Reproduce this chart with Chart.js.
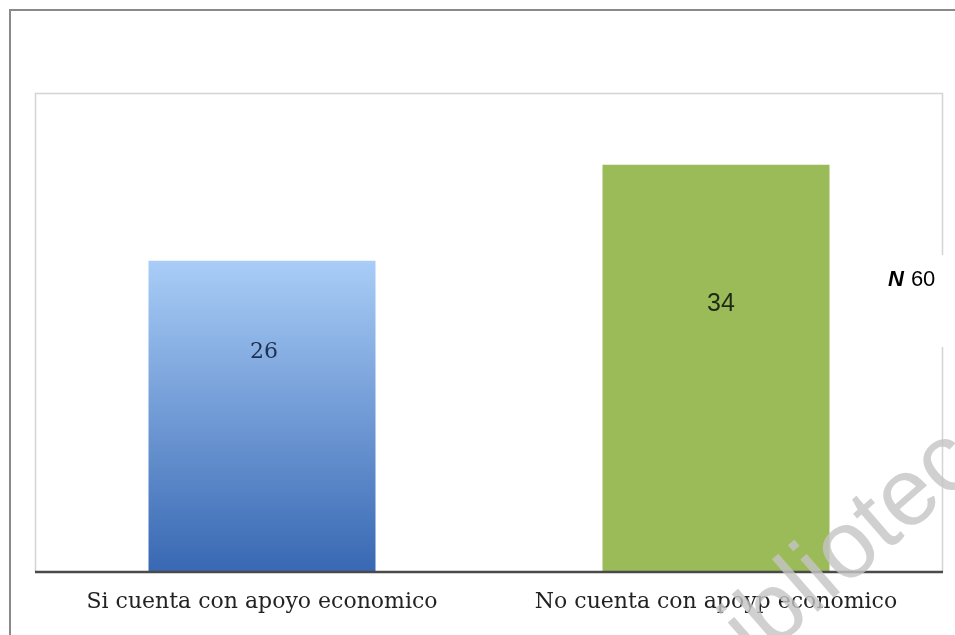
<!DOCTYPE html>
<html>
<head>
<meta charset="utf-8">
<script src="https://cdn.jsdelivr.net/npm/chart.js@4"></script>
<style>
  html, body { margin: 0; padding: 0; background: #fff; }
  #wrap { width: 955px; height: 635px; position: relative; }
</style>
</head>
<body>
<div id="wrap"><canvas id="chart"></canvas></div>
<script>
// data
const categories = ['Si cuenta con apoyo economico', 'No cuenta con apoyp economico'];
const values = [26, 34];
const totalLabel = '60';
const yMax = 40;

// frame, N label, value labels and watermark
const decorations = {
    id: 'decorations',
    beforeDraw(chart) {
        const ctx = chart.ctx;
        const a = chart.chartArea;
        ctx.save();
        // outer frame (left + top)
        ctx.strokeStyle = '#8a8a8a';
        ctx.lineWidth = 2;
        ctx.beginPath();
        ctx.moveTo(10, 635);
        ctx.lineTo(10, 10);
        ctx.lineTo(955, 10);
        ctx.stroke();
        // inner plot box, light gray, with a gap on the right for the N label
        ctx.strokeStyle = '#d4d4d4';
        ctx.lineWidth = 1.5;
        ctx.beginPath();
        ctx.moveTo(a.left + 0.5, a.bottom);
        ctx.lineTo(a.left + 0.5, a.top + 0.5);
        ctx.lineTo(a.right - 0.5, a.top + 0.5);
        ctx.lineTo(a.right - 0.5, 255);
        ctx.moveTo(a.right - 0.5, 347);
        ctx.lineTo(a.right - 0.5, a.bottom);
        ctx.stroke();
        ctx.restore();
    },
    afterDatasetsDraw(chart) {
        const ctx = chart.ctx;
        const a = chart.chartArea;
        const meta = chart.getDatasetMeta(0);
        ctx.save();
        // bottom axis line
        ctx.strokeStyle = '#4a4a4a';
        ctx.lineWidth = 2.5;
        ctx.beginPath();
        ctx.moveTo(a.left, a.bottom);
        ctx.lineTo(a.right, a.bottom);
        ctx.stroke();

        // value labels
        ctx.textAlign = 'center';
        ctx.textBaseline = 'middle';
        meta.data.forEach((bar, i) => {
            const mid = (bar.y + bar.base) / 2 - 64;
            if (i === 0) {
                ctx.font = '22px "DejaVu Serif"';
                ctx.fillStyle = '#1e2f4f';
            } else {
                ctx.font = '25px "Liberation Sans"';
                ctx.fillStyle = '#1f2a14';
            }
            ctx.fillText(String(values[i]), bar.x + (i === 1 ? 5 : 2), mid);
        });

        // N 60
        ctx.textAlign = 'left';
        ctx.fillStyle = '#000';
        ctx.font = 'italic bold 22px "Liberation Sans"';
        ctx.fillText('N', 888, 280);
        const w = ctx.measureText('N').width + 7;
        ctx.font = '22px "Liberation Sans"';
        ctx.fillText(totalLabel, 888 + w, 280);
        ctx.restore();
    },
    afterDraw(chart) {
        const ctx = chart.ctx;
        ctx.save();
        // watermark
        ctx.translate(716, 700);
        ctx.rotate(-41 * Math.PI / 180);
        ctx.font = '96px "Liberation Sans"';
        ctx.textBaseline = 'alphabetic';
        ctx.fillStyle = 'rgba(196,196,196,0.8)';
        ctx.fillText('biblioteca', 0, 0);
        ctx.restore();
    }
};

const canvas = document.getElementById('chart');
new Chart(canvas, {
    type: 'bar',
    data: {
        labels: categories,
        datasets: [{
            data: values,
            backgroundColor: function (context) {
                if (context.dataIndex === 1) return '#9bbb59';
                const chart = context.chart;
                const a = chart.chartArea;
                if (!a) return '#6a9be0';
                const yTop = chart.scales.y.getPixelForValue(values[0]);
                const g = chart.ctx.createLinearGradient(0, yTop, 0, a.bottom);
                g.addColorStop(0, '#a9cdf7');
                g.addColorStop(1, '#3868b3');
                return g;
            },
            borderWidth: 0,
            categoryPercentage: 1.0,
            barPercentage: 0.5
        }]
    },
    options: {
        responsive: true,
        maintainAspectRatio: false,
        animation: false,
        layout: {
            padding: { left: 35, right: 12, top: 93, bottom: 0 }
        },
        plugins: {
            legend: { display: false },
            tooltip: { enabled: false }
        },
        scales: {
            x: {
                grid: { display: false, drawTicks: false },
                border: { display: false },
                ticks: {
                    padding: 17,
                    color: '#222',
                    font: { family: '"DejaVu Serif"', size: 22 }
                },
                afterFit: function (scale) { scale.height = 63; }
            },
            y: {
                display: false,
                min: 0,
                max: yMax
            }
        }
    },
    plugins: [decorations]
});
</script>
</body>
</html>
